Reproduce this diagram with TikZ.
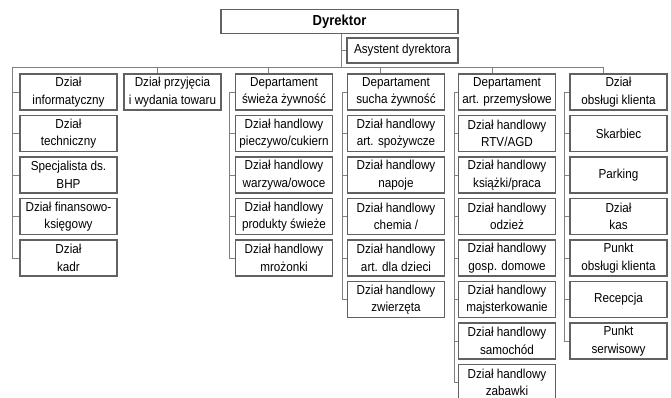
\documentclass[tikz,border=0pt]{standalone}
\usepackage{fontspec}
\setmainfont{Liberation Sans}[FakeStretch=0.9]
\begin{document}
\begin{tikzpicture}[x=1pt,y=-1pt,
  box/.style={draw=black!62, line width=1.1pt, fill=white, inner sep=0pt, align=center,
    minimum width=97pt, minimum height=36pt, font=\fontsize{13}{17.5}\selectfont},
  link/.style={draw=black!50, line width=0.9pt}]
\fill[white] (0,0) rectangle (671,398);
\clip (0,0) rectangle (671,398);
\useasboundingbox (0,0) rectangle (671,398);
% top
\node[box, minimum width=237pt, minimum height=23.5pt, font=\fontsize{14.5}{16}\selectfont\bfseries] (dyr) at (339.5,21.5) {Dyrektor};
\node[box, minimum width=111pt, minimum height=25pt] (asy) at (402.5,50.5) {Asystent dyrektora};
% column 1
\node[box] (c1a) at (68.5,92) {Dział\\informatyczny};
\node[box] (c1b) at (68.5,133.5) {Dział\\techniczny};
\node[box] (c1c) at (68.5,175) {Specjalista ds.\\BHP};
\node[box] (c1d) at (68.5,216.5) {Dział finansowo-\\księgowy};
\node[box] (c1e) at (68.5,258) {Dział\\kadr};
% column 2
\node[box] (c2a) at (172.5,92) {Dział przyjęcia\\i wydania towaru};
% column 3
\node[box] (c3a) at (284,92) {Departament\\świeża żywność};
\node[box] (c3b) at (284,133.5) {Dział handlowy\\pieczywo/cukiern};
\node[box] (c3c) at (284,175) {Dział handlowy\\warzywa/owoce};
\node[box] (c3d) at (284,216.5) {Dział handlowy\\produkty świeże};
\node[box] (c3e) at (284,258) {Dział handlowy\\mrożonki};
% column 4
\node[box] (c4a) at (396,92) {Departament\\sucha żywność};
\node[box] (c4b) at (396,133.5) {Dział handlowy\\art. spożywcze};
\node[box] (c4c) at (396,175) {Dział handlowy\\napoje};
\node[box] (c4d) at (396,216.5) {Dział handlowy\\chemia /};
\node[box] (c4e) at (396,258) {Dział handlowy\\art. dla dzieci};
\node[box] (c4f) at (396,299.5) {Dział handlowy\\zwierzęta};
% column 5
\node[box] (c5a) at (507,92) {Departament\\art. przemysłowe};
\node[box] (c5b) at (507,133.5) {Dział handlowy\\RTV/AGD};
\node[box] (c5c) at (507,175) {Dział handlowy\\książki/praca};
\node[box] (c5d) at (507,216.5) {Dział handlowy\\odzież};
\node[box] (c5e) at (507,258) {Dział handlowy\\gosp. domowe};
\node[box] (c5f) at (507,299.5) {Dział handlowy\\majsterkowanie};
\node[box] (c5g) at (507,341) {Dział handlowy\\samochód};
\node[box] (c5h) at (507,382.5) {Dział handlowy\\zabawki};
% column 6
\node[box] (c6a) at (618.5,92) {Dział\\obsługi klienta};
\node[box] (c6b) at (618.5,133.5) {Skarbiec};
\node[box] (c6c) at (618.5,175) {Parking};
\node[box] (c6d) at (618.5,216.5) {Dział\\kas};
\node[box] (c6e) at (618.5,258) {Punkt\\obsługi klienta};
\node[box] (c6f) at (618.5,299.5) {Recepcja};
\node[box] (c6g) at (618.5,341) {Punkt\\serwisowy};
% connector coordinates
\coordinate (busL) at (12,67);
\coordinate (busR) at (603,67);
\coordinate (dj) at (341,67);
\coordinate (t2) at (157,67);
\coordinate (t3) at (268,67);
\coordinate (t4) at (380,67);
\coordinate (t5) at (492,67);
\coordinate (t6) at (603,67);
\coordinate (s3) at (229,0);
\coordinate (s4) at (342,0);
\coordinate (s5) at (454,0);
\coordinate (s6) at (564,0);
% connectors
\draw[link] (dyr.south -| dj) -- (dj);
\draw[link] (asy.west) -- (asy.west -| dj);
\draw[link] (busL) -- (busR);
\foreach \t/\n in {t2/c2a,t3/c3a,t4/c4a,t5/c5a,t6/c6a}
  \draw[link] (\t) -- (\t |- \n.north);
\draw[link] (busL) -- (busL |- c1e.west);
\foreach \n in {c1a,c1b,c1c,c1d,c1e}
  \draw[link] (\n.west) -- (\n.west -| busL);
\draw[link] (s3 |- c3a.west) -- (s3 |- c3e.west);
\foreach \n in {c3a,c3b,c3c,c3d,c3e}
  \draw[link] (\n.west) -- (\n.west -| s3);
\draw[link] (s4 |- c4a.west) -- (s4 |- c4f.west);
\foreach \n in {c4a,c4b,c4c,c4d,c4e,c4f}
  \draw[link] (\n.west) -- (\n.west -| s4);
\draw[link] (s5 |- c5a.west) -- (s5 |- c5h.west);
\foreach \n in {c5a,c5b,c5c,c5d,c5e,c5f,c5g,c5h}
  \draw[link] (\n.west) -- (\n.west -| s5);
\draw[link] (s6 |- c6a.west) -- (s6 |- c6g.west);
\foreach \n in {c6a,c6b,c6c,c6d,c6e,c6f,c6g}
  \draw[link] (\n.west) -- (\n.west -| s6);
\end{tikzpicture}
\end{document}
